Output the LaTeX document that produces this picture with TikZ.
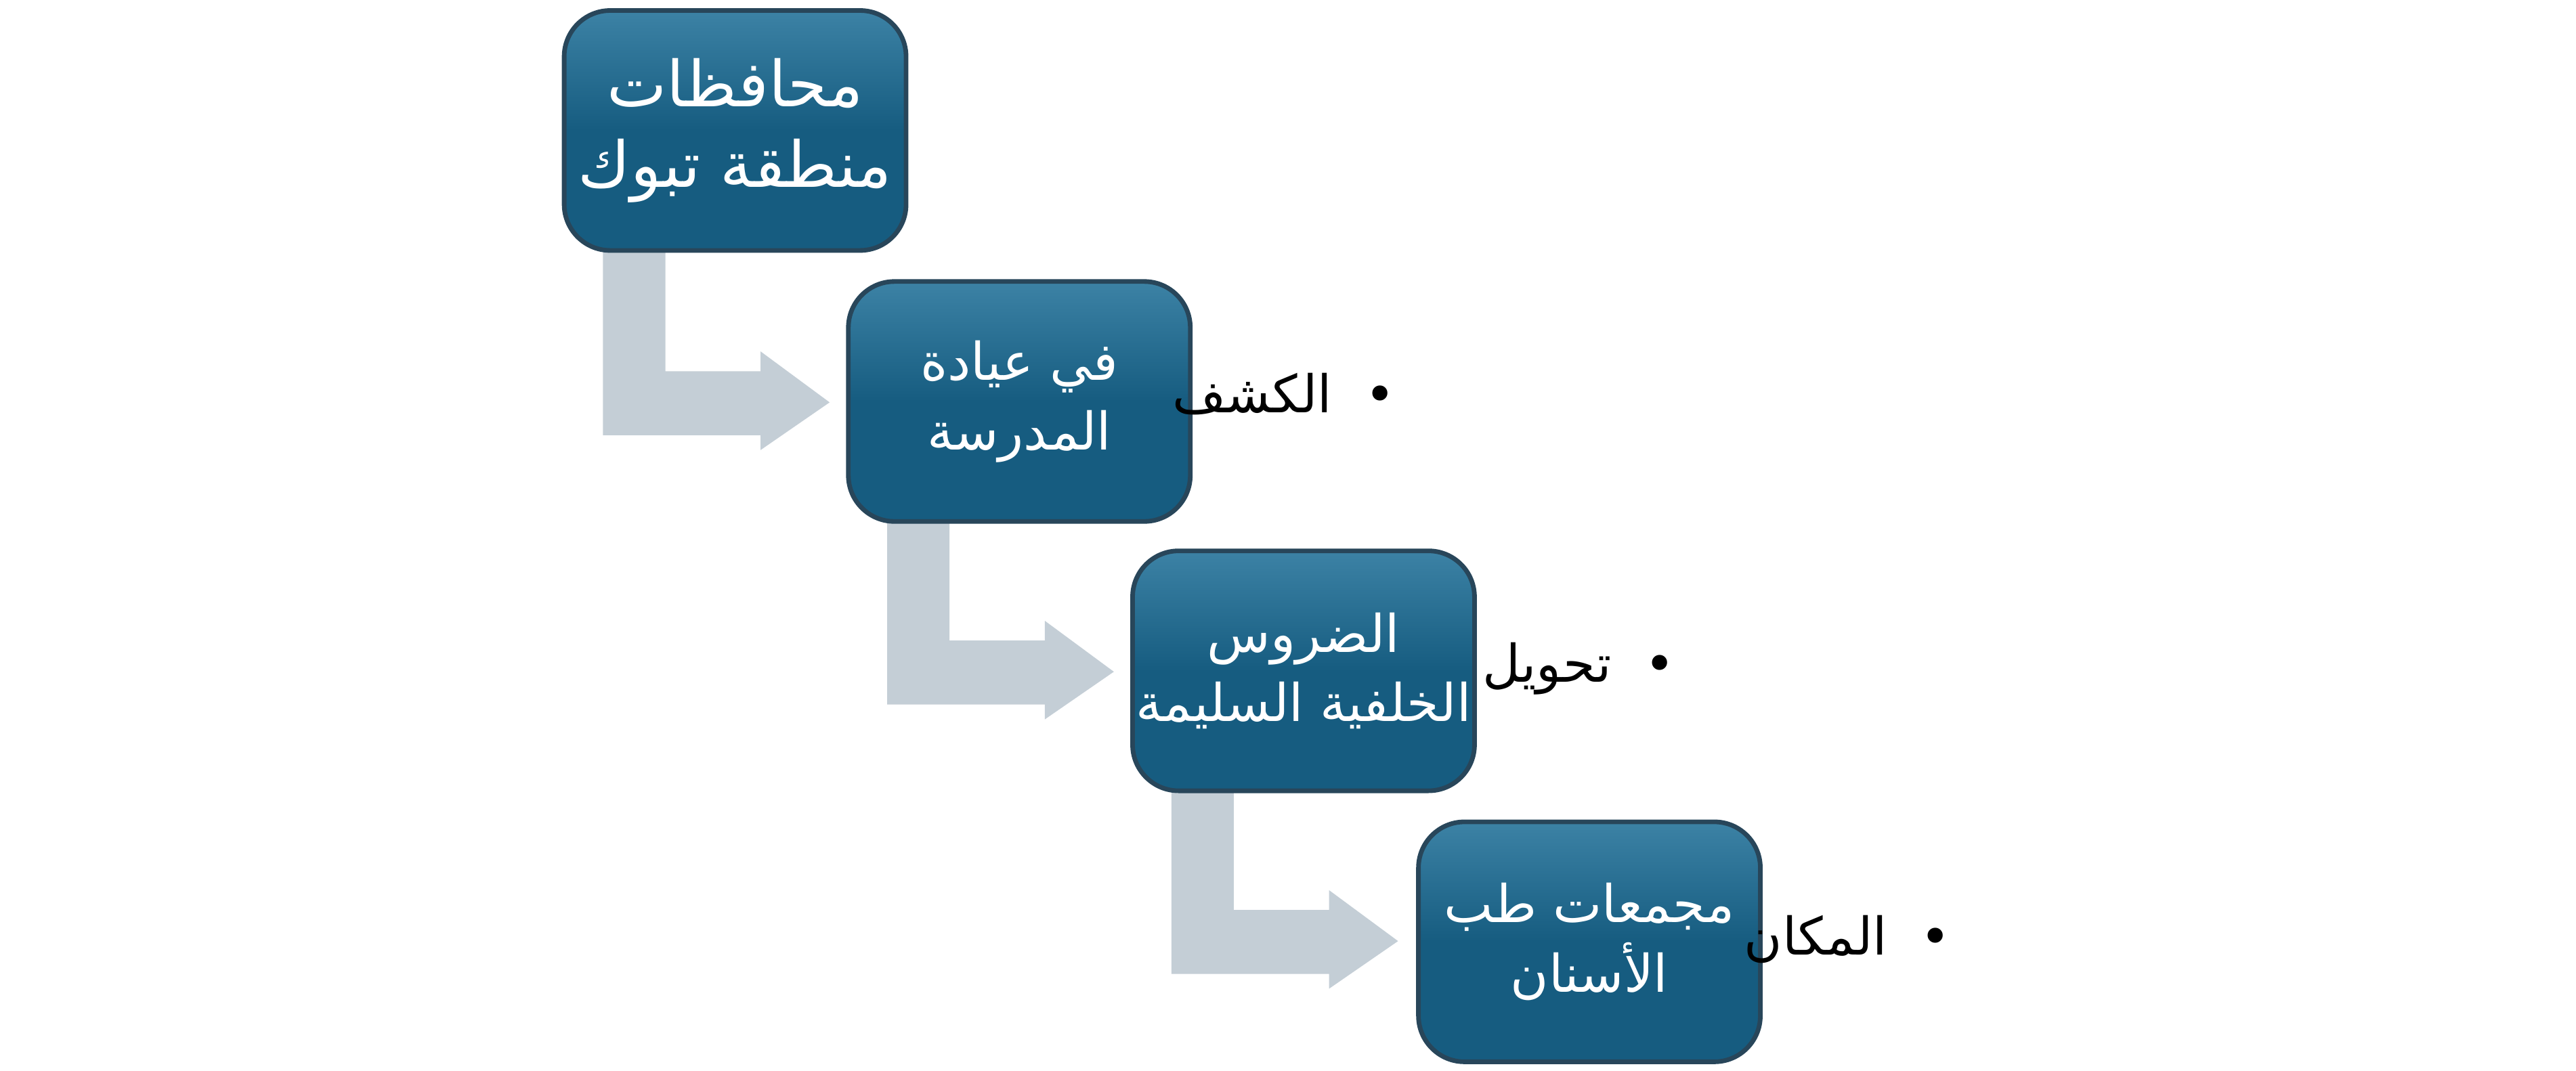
\documentclass[tikz,border=0pt]{standalone}
\usepackage{fontspec}
\TeXXeTstate=1
\newfontfamily\arabicfont[Script=Arabic]{DejaVu Sans}
\definecolor{boxc}{RGB}{22,92,128}
\definecolor{boxtop}{RGB}{60,130,165}
\definecolor{boxedge}{RGB}{40,70,90}
\definecolor{arrc}{RGB}{196,206,214}
\tikzset{
 x=0.01cm,y=-0.01cm,
 bx/.style={draw=boxedge,line width=0.8pt,rounded corners=0.28cm,top color=boxtop,bottom color=boxc,middle color=boxc,
   minimum width=2.08cm,minimum height=1.46cm,text=white,align=center,inner sep=0pt,anchor=north west,font=\arabicfont\fontsize{9}{12}\selectfont},
 lbl/.style={text=black,font=\arabicfont\fontsize{9}{11}\selectfont,anchor=east},
 garr/.style={fill=arrc,draw=none}
}
\begin{document}
\begin{tikzpicture}
\useasboundingbox (0,0) rectangle (1568,652);
% arrows
\foreach \xo/\yo in {0/0,173/164,346/328}{
 \fill[arrc] (367+\xo,152+\yo) -- (405+\xo,152+\yo) -- (405+\xo,226+\yo) -- (463+\xo,226+\yo) -- (463+\xo,214+\yo) -- (505+\xo,245+\yo) -- (463+\xo,274+\yo) -- (463+\xo,265+\yo) -- (367+\xo,265+\yo) -- cycle;
}
\node[bx,font=\arabicfont\fontsize{11}{14}\selectfont] (b1) at (342,5) {\beginR محافظات\endR\\\beginR منطقة تبوك\endR};
\node[bx] (b2) at (515,170) {\beginR في عيادة\endR\\\beginR المدرسة\endR};
\node[bx] (b3) at (688,334) {\beginR الضروس\endR\\\beginR الخلفية السليمة\endR};
\node[bx] (b4) at (862,499) {\beginR مجمعات طب\endR\\\beginR الأسنان\endR};
\node[lbl] (l1) at (862,240) {\beginR •\ \ الكشف\endR};
\node[lbl] (l2) at (1032,407) {\beginR •\ \ تحويل\endR};
\node[lbl] (l3) at (1200,572) {\beginR •\ \ المكان\endR};
\end{tikzpicture}
\end{document}
